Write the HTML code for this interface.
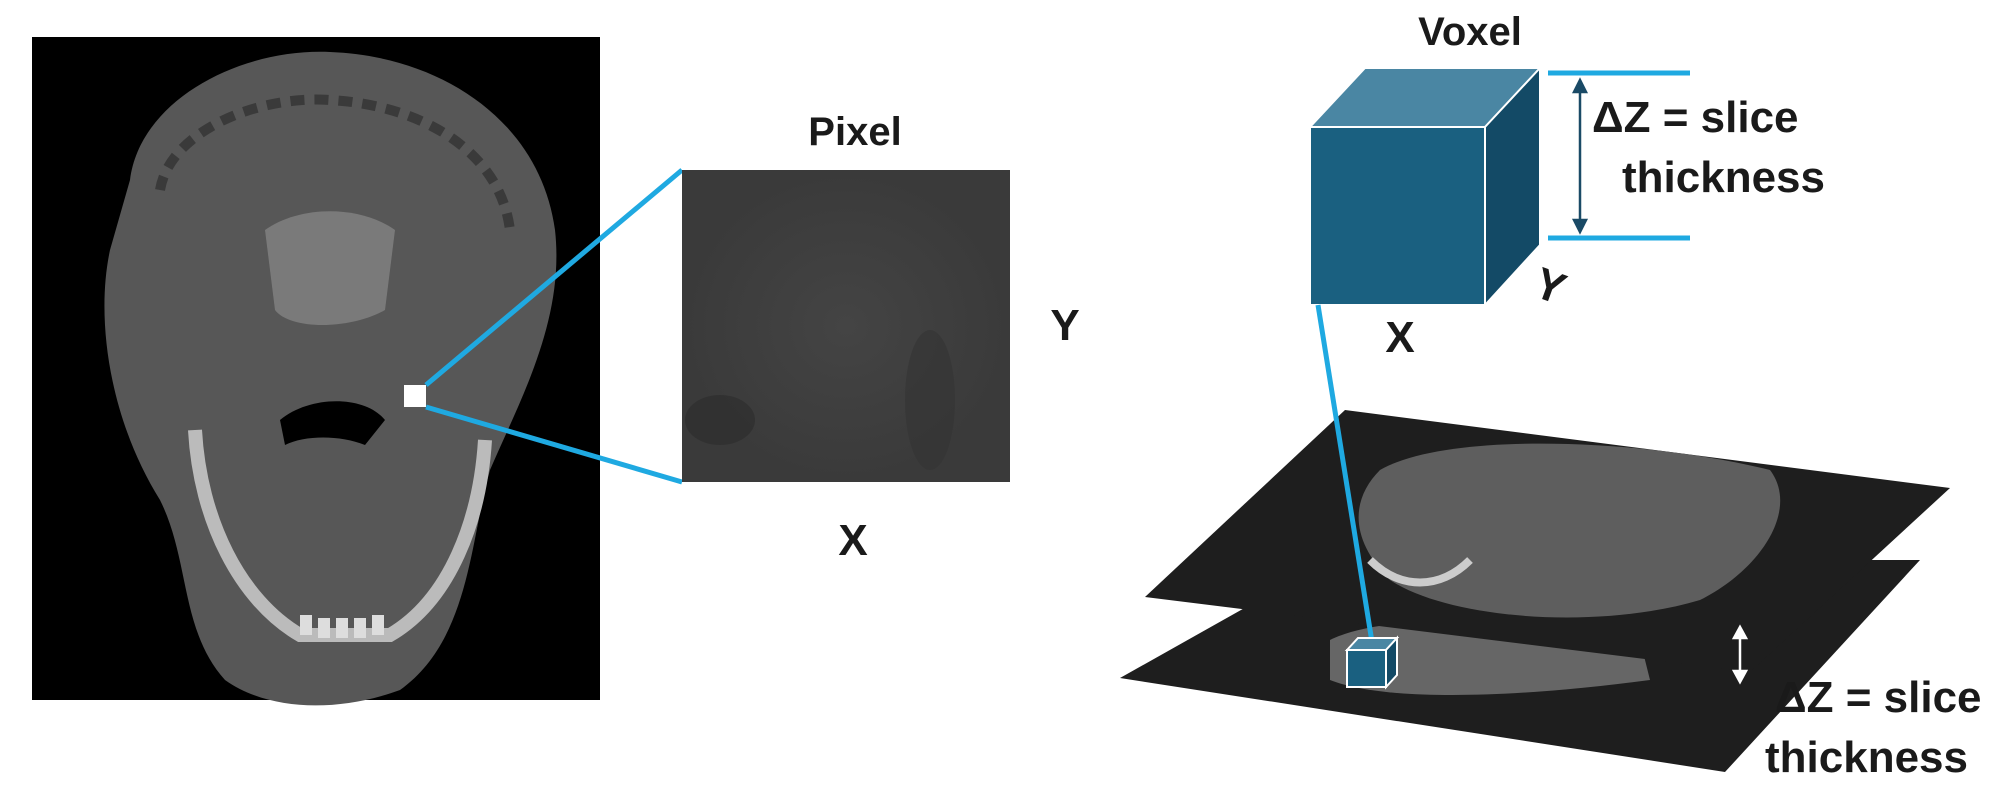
<!DOCTYPE html>
<html><head><meta charset="utf-8"><style>
html,body{margin:0;padding:0;background:#fff;}
svg{display:block;}
text{font-family:"Liberation Sans","DejaVu Sans",sans-serif;font-weight:bold;fill:#1a1a1a;}
</style></head><body>
<svg width="2008" height="801" viewBox="0 0 2008 801">
<defs>
<radialGradient id="g1" cx="50%" cy="50%" r="50%"><stop offset="0" stop-color="#444"/><stop offset="1" stop-color="#3a3a3a"/></radialGradient>
</defs>
<g>
<rect x="32" y="37" width="568" height="663" fill="#000"/>
<path d="M130,180 C140,100 240,48 330,52 C440,56 540,120 555,230 C565,320 520,400 490,470 C470,540 470,640 400,690 C340,712 270,712 225,680 C180,630 190,560 160,500 C110,420 95,320 110,250 Z" fill="#575757"/>
<path d="M160,190 C170,130 260,95 330,100 C420,105 500,150 510,230" fill="none" stroke="#3a3a3a" stroke-width="10" stroke-dasharray="14 10"/>
<path d="M265,230 C300,205 360,205 395,230 L385,310 C350,330 290,330 275,310 Z" fill="#7a7a7a"/>
<path d="M280,420 C310,395 365,395 385,420 L365,445 C340,435 305,435 285,445 Z" fill="#000"/>
<path d="M195,430 C200,520 240,600 300,635 L390,635 C450,600 480,520 485,440" fill="none" stroke="#bbb" stroke-width="14"/>
<g fill="#ddd"><rect x="300" y="615" width="12" height="20"/><rect x="318" y="618" width="12" height="20"/><rect x="336" y="618" width="12" height="20"/><rect x="354" y="618" width="12" height="20"/><rect x="372" y="615" width="12" height="20"/></g>
<rect x="404" y="385" width="22" height="22" fill="#fff"/>
</g>
<line x1="426" y1="385" x2="682" y2="170" stroke="#1fa9e1" stroke-width="5"/>
<line x1="426" y1="407" x2="682" y2="482" stroke="#1fa9e1" stroke-width="5"/>
<rect x="682" y="170" width="328" height="312" fill="url(#g1)"/>
<ellipse cx="720" cy="420" rx="35" ry="25" fill="#2e2e2e" opacity="0.7"/>
<ellipse cx="930" cy="400" rx="25" ry="70" fill="#333" opacity="0.6"/>
<text x="855" y="145" font-size="40" text-anchor="middle">Pixel</text>
<text x="1065" y="340" font-size="44" text-anchor="middle" font-weight="normal">Y</text>
<text x="853" y="555" font-size="44" text-anchor="middle" font-weight="normal">X</text>
<g>
<polygon points="1310,127 1365,68 1540,68 1485,127" fill="#4a86a3" stroke="#fff" stroke-width="2"/>
<polygon points="1485,127 1540,68 1540,245 1485,305" fill="#134a66" stroke="#fff" stroke-width="2"/>
<rect x="1310" y="127" width="175" height="178" fill="#1a6080" stroke="#fff" stroke-width="2"/>
</g>
<text x="1470" y="45" font-size="40" text-anchor="middle">Voxel</text>
<text x="1400" y="352" font-size="44" text-anchor="middle" font-weight="normal">X</text>
<text x="1545" y="300" font-size="44" text-anchor="middle" font-weight="normal" transform="rotate(20 1545 300)">Y</text>
<line x1="1548" y1="73" x2="1690" y2="73" stroke="#1fa9e1" stroke-width="5"/>
<line x1="1548" y1="238" x2="1690" y2="238" stroke="#1fa9e1" stroke-width="5"/>
<g stroke="#1a4a66" stroke-width="2.5" fill="#1a4a66">
<line x1="1580" y1="84" x2="1580" y2="228"/>
<polygon points="1574,92 1580,80 1586,92"/><polygon points="1574,220 1580,232 1586,220"/>
</g>
<text x="1592" y="132" font-size="44">ΔZ = slice</text>
<text x="1622" y="192" font-size="44">thickness</text>
<g>
<polygon points="1120,678 1330,560 1920,560 1725,772" fill="#1e1e1e"/>
<path d="M1330,640 C1380,615 1500,615 1640,640 L1650,680 C1500,700 1380,700 1330,680 Z" fill="#666"/>
<polygon points="1145,597 1345,410 1950,488 1750,672" fill="#1e1e1e"/>
<path d="M1380,470 C1450,430 1650,440 1770,470 C1800,510 1760,570 1700,600 C1600,630 1450,620 1390,580 C1350,540 1350,500 1380,470 Z" fill="#5e5e5e"/>
<path d="M1370,560 C1400,590 1440,590 1470,560" fill="none" stroke="#ccc" stroke-width="8"/>
</g>
<line x1="1318" y1="305" x2="1372" y2="642" stroke="#1fa9e1" stroke-width="5"/>
<g>
<polygon points="1347,650 1358,638 1397,638 1386,650" fill="#4a86a3" stroke="#fff" stroke-width="2"/>
<polygon points="1386,650 1397,638 1397,675 1386,687" fill="#134a66" stroke="#fff" stroke-width="2"/>
<rect x="1347" y="650" width="39" height="37" fill="#1a6080" stroke="#fff" stroke-width="2"/>
</g>
<g stroke="#fff" stroke-width="2.5" fill="#fff">
<line x1="1740" y1="632" x2="1740" y2="676"/>
<polygon points="1734,638 1740,627 1746,638"/><polygon points="1734,671 1740,682 1746,671"/>
</g>
<text x="1775" y="712" font-size="44">ΔZ = slice</text>
<text x="1765" y="772" font-size="44">thickness</text>
</svg>
</body></html>
